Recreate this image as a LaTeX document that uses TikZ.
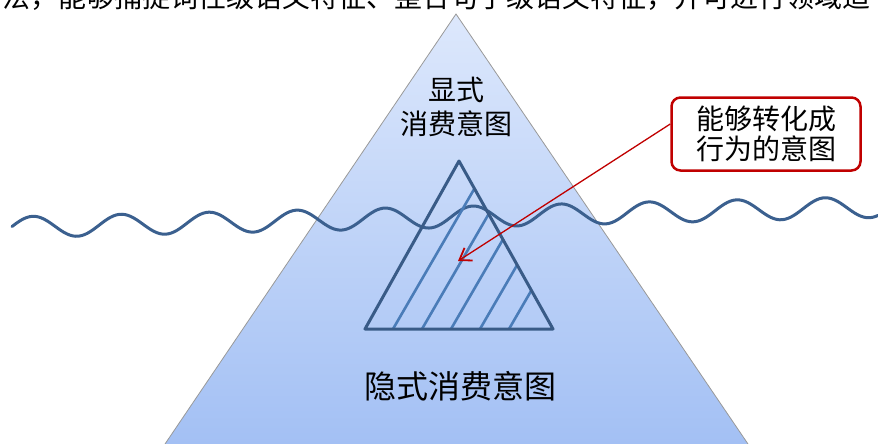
\documentclass[tikz,border=0pt]{standalone}
\usepackage{fontspec}
\newfontfamily\cjk{Noto Sans CJK SC}
\usetikzlibrary{arrows.meta}
\definecolor{tritop}{HTML}{DDE8FC}
\definecolor{tribot}{HTML}{A3C0F4}
\definecolor{waveblue}{HTML}{3B608F}
\definecolor{edgeblue}{HTML}{395B87}
\definecolor{hatchblue}{HTML}{4A7CB8}
\definecolor{boxred}{HTML}{C00000}
\begin{document}
\begin{tikzpicture}[x=1pt, y=-1pt,
  txt/.style={font=\cjk\fontsize{28}{34}\selectfont, align=center, inner sep=0pt},
  wave/.style={waveblue, line width=3pt, line cap=round, line join=round},
  tri/.style={edgeblue, line width=3pt, line join=round},
  hatch/.style={hatchblue, line width=2.6pt},
  callout/.style={draw=boxred, line width=2.5pt, rounded corners=9pt, fill=white,
    minimum width=189pt, minimum height=73pt, align=center, inner sep=0pt,
    font=\cjk\fontsize{28}{30}\selectfont},
  pointer/.style={boxred, line width=1.3pt, -{Straight Barb[length=11pt, width=15pt, line width=1.8pt]}}]
\useasboundingbox (0,0) rectangle (878,444);
\clip (0,0) rectangle (878,444);
\node[txt, anchor=base west] (zhengwen) at (2,8) {法，能够捕捉词性级语义特征、整合句子级语义特征，并可进行领域适};
\coordinate (apex) at (456,14);
\coordinate (bl) at (165,444);
\coordinate (br) at (748,444);
\shade[top color=tritop, bottom color=tribot] (apex) -- (bl) -- (br) -- cycle;
\draw[black!40, line width=0.8pt] (bl) -- (apex) -- (br);
\node[txt] (xianshi) at (456,107) {显式\\消费意图};
\node[txt, font=\cjk\fontsize{32}{36}\selectfont] (yinshi) at (460,386) {隐式消费意图};
\draw[wave] plot[domain=12:878, samples=300, smooth] (\x, {226.8-0.0234*(\x-33)-10.5*cos(4.0909*(\x-33))});
\coordinate (ta) at (459,161);
\coordinate (tb) at (365,329);
\coordinate (tc) at (553,329);
\begin{scope}
\clip (ta) -- (tb) -- (tc) -- cycle;
\foreach \i in {0,...,4}
  \draw[hatch] ({393+29*\i},329) -- ++(116,-200);
\end{scope}
\draw[tri] (ta) -- (tb) -- (tc) -- cycle;
\node[callout] (zhuanhua) at (766,134) {能够转化成\\行为的意图};
\coordinate (tip) at (458,261);
\draw[pointer] ([yshift=10pt]zhuanhua.west) -- (tip);
\end{tikzpicture}
\end{document}
